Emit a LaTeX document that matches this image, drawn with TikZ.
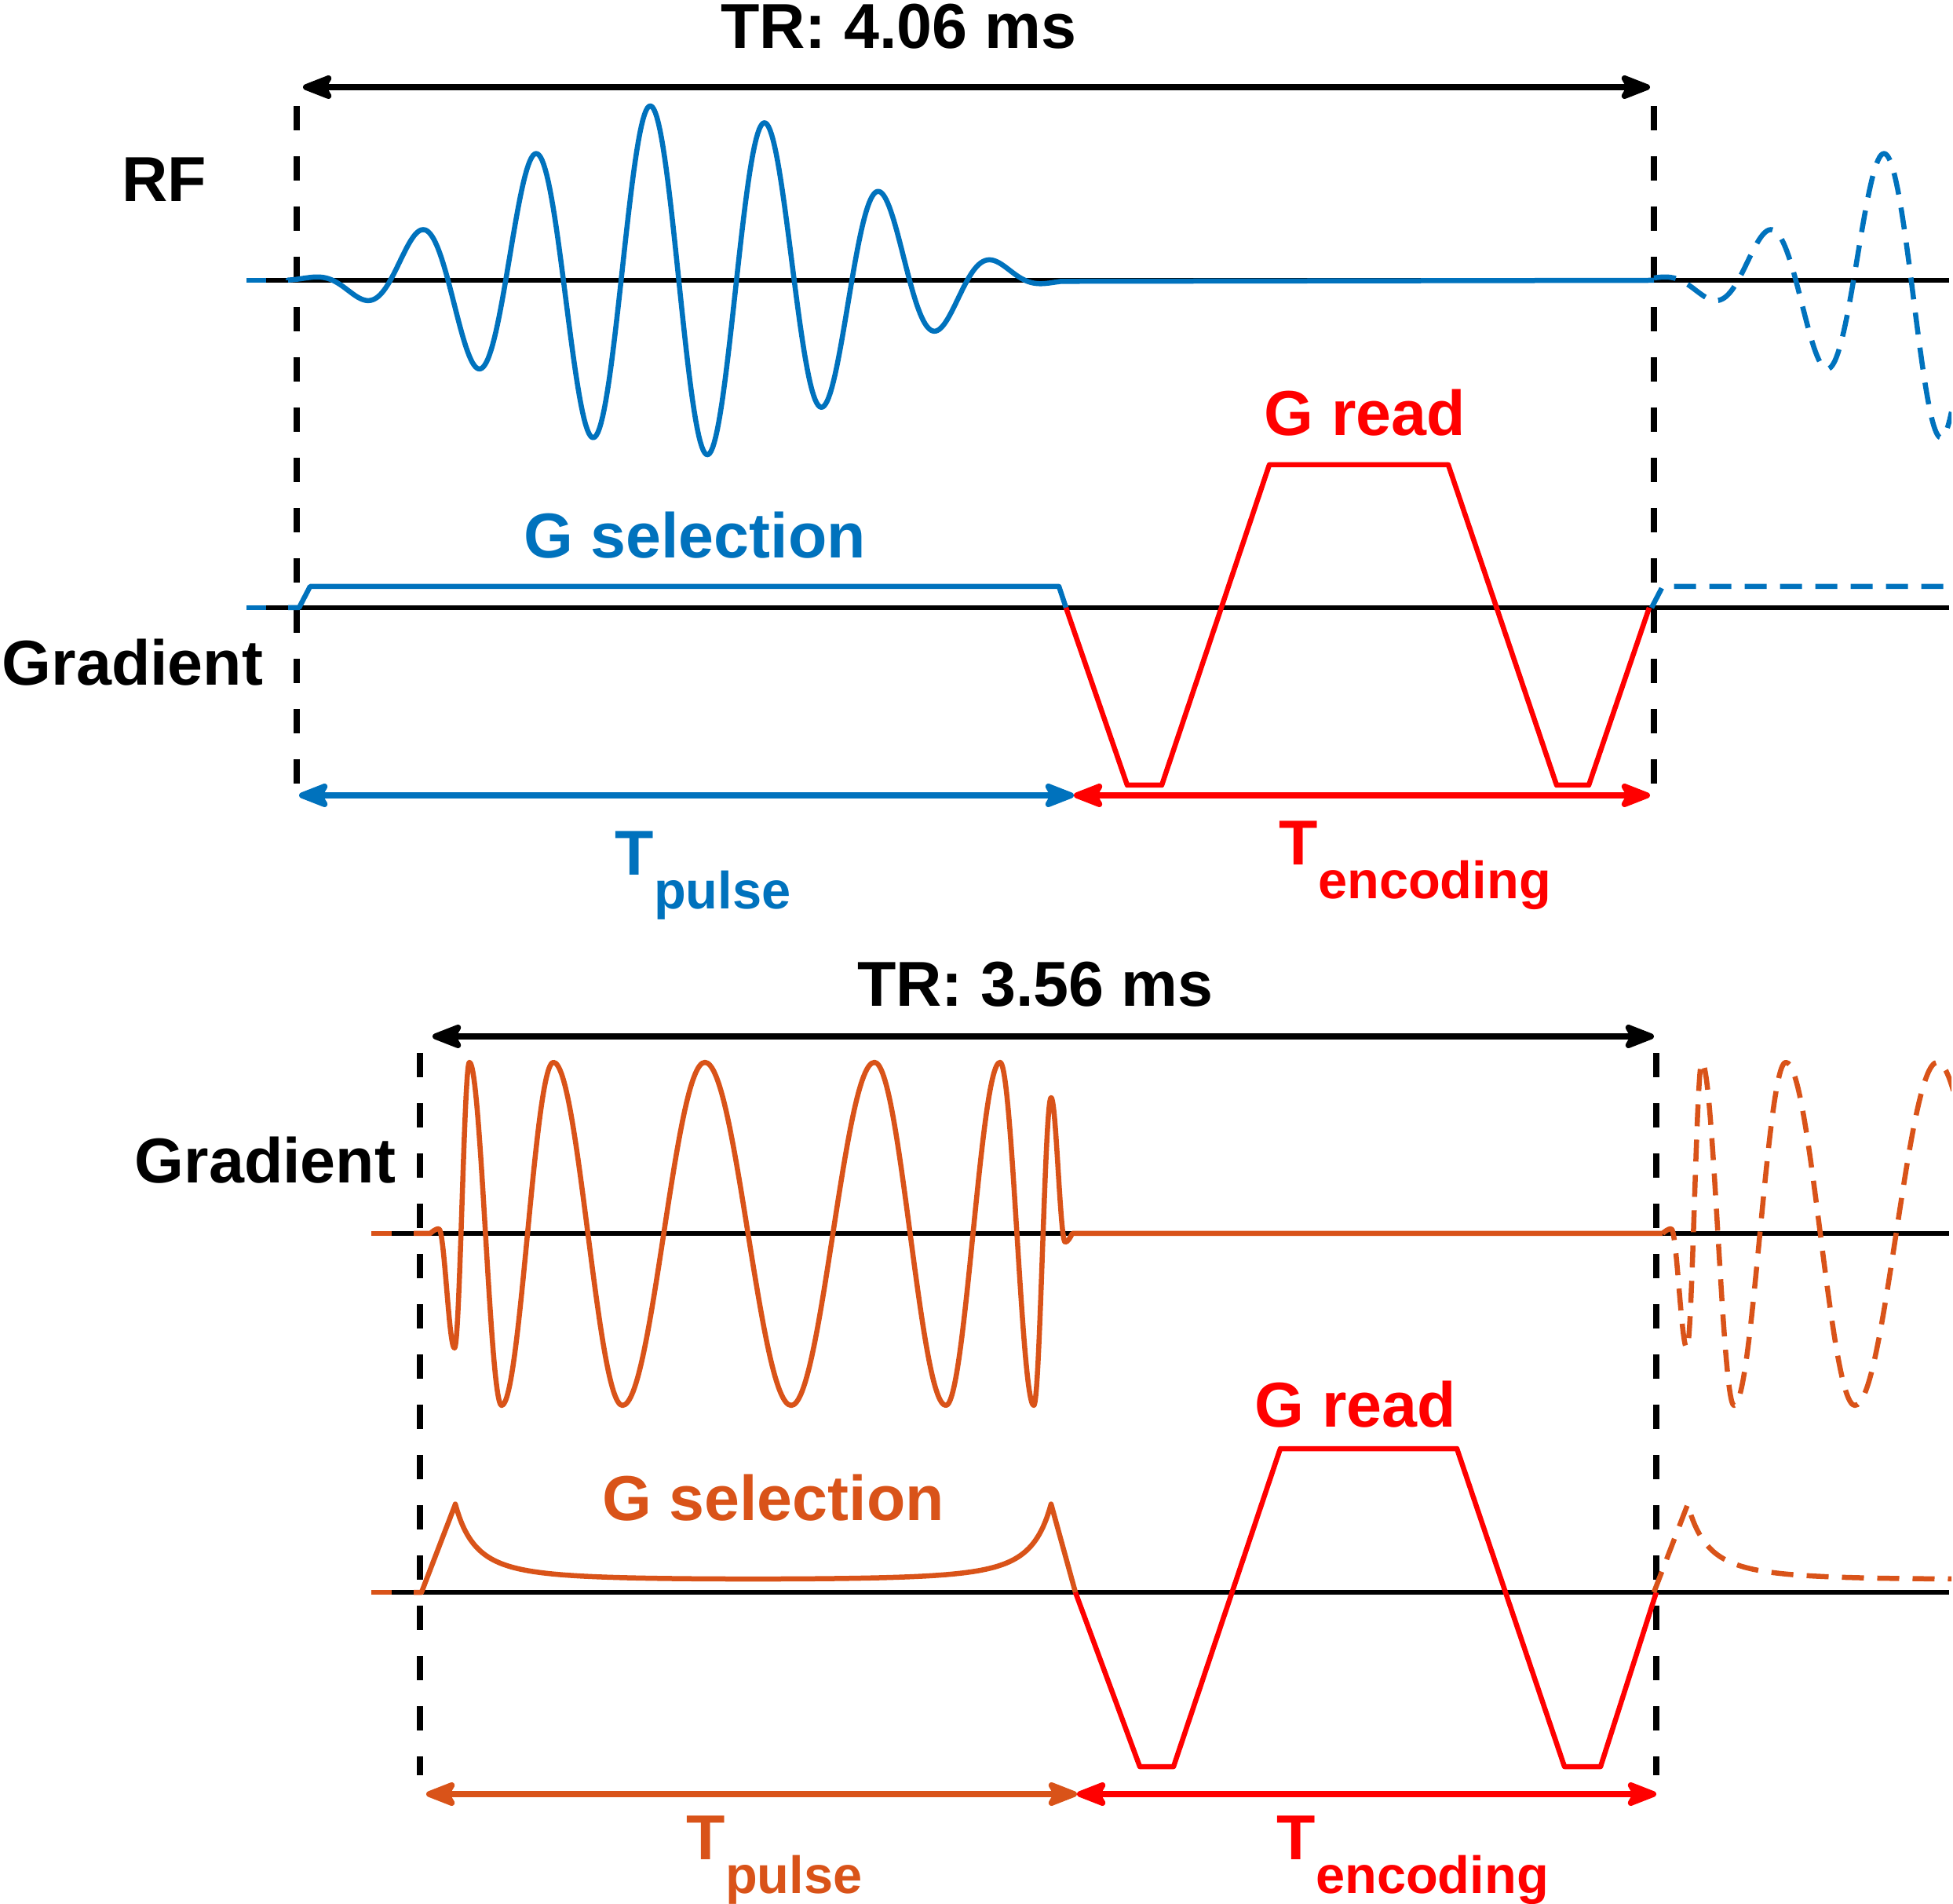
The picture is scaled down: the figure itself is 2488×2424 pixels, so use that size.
\documentclass[tikz,border=0pt]{standalone}
\usepackage{fontspec}
\setmainfont{Liberation Sans}
\usetikzlibrary{arrows.meta}

\definecolor{mblue}{RGB}{0,114,189}
\definecolor{morange}{RGB}{217,83,25}

\newcommand{\Tsub}[1]{T\raisebox{-4.3mm}{\fontsize{19}{22}\selectfont #1}}
\newcommand{\gradpeaks}{579/707, 598/1071, 639/634, 705/1071, 793/634, 898/1071, 1008/634, 1114/1071, 1205/634, 1274/1071, 1317/634, 1339/1026, 1357/842}

\begin{document}
\begin{tikzpicture}[
    x=0.1mm, y=0.1mm, % one unit = one pixel of the figure
    label_txt/.style={font=\bfseries\fontsize{23}{27}\selectfont, inner sep=0pt, anchor=base},
    axis_line/.style={line width=0.65mm},
    tr_line/.style={line width=0.75mm, dash pattern=on 3.1mm off 3.3mm},
    wave/.style={line width=0.65mm, line join=round},
    wave_next/.style={wave, dash pattern=on 2.8mm off 1.7mm},
    span_arrow/.style={{Stealth[length=4.7mm, width=3.6mm, inset=1mm, round]}-{Stealth[length=4.7mm, width=3.6mm, inset=1mm, round]}, line width=0.75mm}
]
\useasboundingbox (0,0) rectangle (2488,2424);

%%%%% Upper sequence (TR 4.06 ms)
\node[label_txt] (tr1) at (1145,2362) {TR: 4.06 ms};
\coordinate (tr1_l) at (386,2313);
\coordinate (tr1_r) at (2102,2313);
\draw[span_arrow] (tr1_l) -- (tr1_r);

\coordinate (d1_top) at (378,2289);
\coordinate (d1_bot) at (378,1416);
\coordinate (d2_top) at (2107,2289);
\coordinate (d2_bot) at (2107,1416);
\draw[tr_line] (d1_top) -- (d1_bot);
\draw[tr_line] (d2_top) -- (d2_bot);

\node[label_txt] (rf) at (209,2167) {RF};
\node[label_txt] (grad1) at (169,1551) {Gradient};

% axes
\draw[axis_line, mblue] (314,2067) -- (339,2067);
\draw[axis_line] (339,2067) -- (2483,2067);
\draw[axis_line, mblue] (314,1650) -- (339,1650);
\draw[axis_line] (339,1650) -- (2483,1650);

% RF pulse
\draw[wave, mblue] (367,2067) -- plot[domain=367:1352, samples=500]
    (\x, {2067+225*pow(cos((\x-865)*0.17544),2)*cos((\x-828)*2.44898)}) -- (2107,2067);

% slice selection and readout
\draw[wave, mblue] (367,1650) -- (381,1650) -- (395,1677) -- (1349,1677) -- (1358,1650);
\draw[wave, red] (1358,1650) -- (1436,1424) -- (1480,1424) -- (1617,1832) -- (1845,1832)
    -- (1983,1424) -- (2024,1424) -- (2101,1650);
\node[label_txt, mblue] (gsel1) at (885,1713) {G selection};
\node[label_txt, red] (gread1) at (1739,1869) {G read};

% timing
\coordinate (tp1_a) at (381,1411);
\coordinate (tp1_b) at (1368,1411);
\coordinate (tp1_c) at (2102,1411);
\draw[span_arrow, mblue] (tp1_a) -- (tp1_b);
\draw[span_arrow, red] (tp1_b) -- (tp1_c);
\node[label_txt, anchor=base west, mblue] (tpulse1) at (783,1309) {\Tsub{pulse}};
\node[label_txt, anchor=base west, red] (tenc1) at (1629,1322) {\Tsub{encoding}};


%%%%% Lower sequence (TR 3.56 ms)
\node[label_txt] (tr2) at (1319,1142) {TR: 3.56 ms};
\coordinate (tr2_l) at (551,1104);
\coordinate (tr2_r) at (2107,1104);
\draw[span_arrow] (tr2_l) -- (tr2_r);

\coordinate (d3_top) at (535,1083);
\coordinate (d3_bot) at (535,163);
\coordinate (d4_top) at (2110,1083);
\coordinate (d4_bot) at (2110,163);
\draw[tr_line] (d3_top) -- (d3_bot);
\draw[tr_line] (d4_top) -- (d4_bot);

\node[label_txt] (grad2) at (338,917) {Gradient};

% axes
\draw[axis_line, morange] (473,853) -- (499,853);
\draw[axis_line] (499,853) -- (2483,853);
\draw[axis_line, morange] (473,396) -- (499,396);
\draw[axis_line] (499,396) -- (2483,396);

% oscillating gradient
\draw[wave, morange] (527,853) -- (548,853) sin (559,859)
    \foreach \xb/\yb [remember=\xb as \xa (initially 559), remember=\yb as \ya (initially 859)] in \gradpeaks
    { cos ({(\xa+\xb)/2},{(\ya+\yb)/2}) sin (\xb,\yb) }
    cos (1366,853) -- (2118,853);

% slice selection and readout
\draw[wave, morange] (527,396) -- (537,396) -- (580,508) -- plot[domain=580:1339, samples=300]
    (\x, {410+98/pow(1+(\x-580)/53,2)+98/pow(1+(1339-\x)/53,2)}) -- (1370,396);
\draw[wave, red] (1370,396) -- (1452,174) -- (1495,174) -- (1631,579) -- (1856,579)
    -- (1993,174) -- (2039,174) -- (2110,396);
\node[label_txt, morange] (gsel2) at (985,488) {G selection};
\node[label_txt, red] (gread2) at (1727,606) {G read};

% timing
\coordinate (tp2_a) at (543,139);
\coordinate (tp2_b) at (1372,139);
\coordinate (tp2_c) at (2110,139);
\draw[span_arrow, morange] (tp2_a) -- (tp2_b);
\draw[span_arrow, red] (tp2_b) -- (tp2_c);
\node[label_txt, anchor=base west, morange] (tpulse2) at (874,56) {\Tsub{pulse}};
\node[label_txt, anchor=base west, red] (tenc2) at (1626,56) {\Tsub{encoding}};


%%%%% Next repetition (dashed)
\begin{scope}
\clip (0,0) rectangle (2486,2424);
\draw[wave_next, mblue] plot[domain=2107:2486, samples=200]
    (\x, {2067+225*pow(cos((\x-2582)*0.17544),2)*cos((\x-2545)*2.44898)});
\draw[wave_next, mblue] (2104,1650) -- (2118,1677) -- (2486,1677);
\draw[wave_next, morange, xshift=157mm] (548,853) sin (559,859)
    \foreach \xb/\yb [remember=\xb as \xa (initially 559), remember=\yb as \ya (initially 859)] in \gradpeaks
    { cos ({(\xa+\xb)/2},{(\ya+\yb)/2}) sin (\xb,\yb) };
\draw[wave_next, morange, xshift=157mm] (537,396) -- (580,508) -- plot[domain=580:930, samples=150]
    (\x, {410+98/pow(1+(\x-580)/53,2)+98/pow(1+(1339-\x)/53,2)});
\end{scope}

\end{tikzpicture}
\end{document}
